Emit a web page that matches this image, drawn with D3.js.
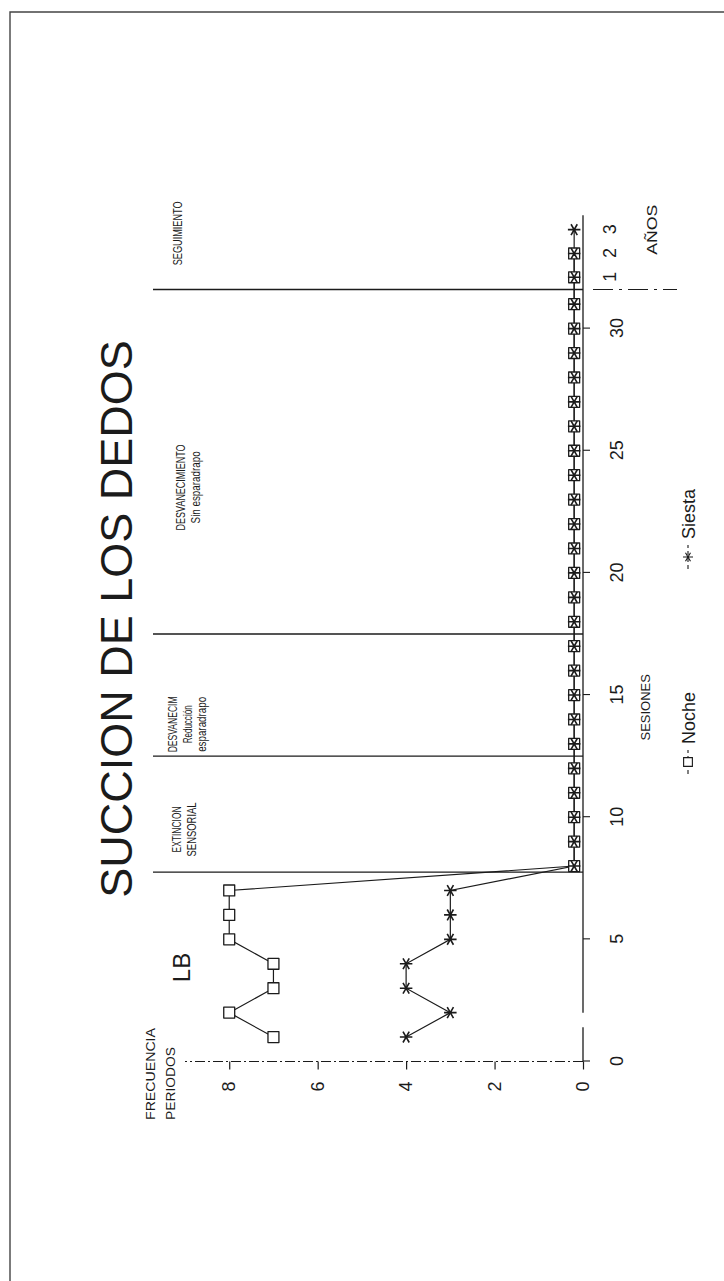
<!DOCTYPE html>
<html>
<head>
<meta charset="utf-8">
<script src="https://cdn.jsdelivr.net/npm/d3@7"></script>
<style>
  body { margin: 0; background: #fff; }
  svg { display: block; font-family: "Liberation Sans", Arial, Helvetica, sans-serif; }
</style>
</head>
<body>
<svg width="724" height="1281"></svg>
<script>
// data
const sessions = [1, 2, 3, 4, 5, 6, 7, 8, 9, 10, 11, 12, 13, 14, 15, 16,
  17, 18, 19, 20, 21, 22, 23, 24, 25, 26, 27, 28, 29, 30, 31];
const noche = [7, 8, 7, 7, 8, 8, 8, 0.2, 0.2, 0.2, 0.2, 0.2, 0.2, 0.2, 0.2, 0.2,
  0.2, 0.2, 0.2, 0.2, 0.2, 0.2, 0.2, 0.2, 0.2, 0.2, 0.2, 0.2, 0.2, 0.2, 0.2];
const siesta = [4, 3, 4, 4, 3, 3, 3, 0.2, 0.2, 0.2, 0.2, 0.2, 0.2, 0.2, 0.2, 0.2,
  0.2, 0.2, 0.2, 0.2, 0.2, 0.2, 0.2, 0.2, 0.2, 0.2, 0.2, 0.2, 0.2, 0.2, 0.2];
const followYears = [1, 2, 3];
const nocheFollow = [0.2, 0.2];
const siestaFollow = [0.2, 0.2, 0.2];

const sessionTicks = [0, 5, 10, 15, 20, 25, 30];
const freqTicks = [0, 2, 4, 6, 8];
const phaseBreaks = [7.75, 12.5, 17.5, 31.6];
const phaseNames = [
  ["LB"],
  ["EXTINCION", "SENSORIAL"],
  ["DESVANECIM", "Reducción", "esparadrapo"],
  ["DESVANECIMIENTO", "Sin esparadrapo"],
  ["SEGUIMIENTO"]
];
const phaseCenters = [3.85, 9.5, 13.8, 23.5, 33.9];

// layout
const W = 1281, H = 724;   // chart drawn sideways, then rotated onto the page
const ink = "#1b1b1b";
const labelLen = {
  "EXTINCION": 46, "SENSORIAL": 54, "DESVANECIM": 56, "Reducción": 38,
  "esparadrapo": 55, "DESVANECIMIENTO": 86, "Sin esparadrapo": 72, "SEGUIMIENTO": 64
};
const firstBaseline = [190, 181, 177, 185, 182];

const svg = d3.select("svg");

// page frame
svg.append("path")
  .attr("d", "M10,1281 V12 H724")
  .attr("fill", "none")
  .attr("stroke", "#444")
  .attr("stroke-width", 1.4);

const g = svg.append("g")
  .attr("transform", `translate(0,${W}) rotate(-90)`);

const x = d3.scaleLinear().domain([0, 30]).range([219.5, 952.4]);
const xF = d3.scaleLinear().domain([1, 3]).range([x(32.1), x(34.05)]);
const y = d3.scaleLinear().domain([0, 9]).range([583, 185]);

// title
g.append("text")
  .attr("x", 662).attr("y", 132)
  .attr("text-anchor", "middle")
  .attr("font-size", 45)
  .attr("fill", ink)
  .text("SUCCION DE LOS DEDOS");

// y axis
g.append("line")
  .attr("x1", x(0)).attr("x2", x(0))
  .attr("y1", y(0)).attr("y2", y(9))
  .attr("stroke", ink).attr("stroke-width", 1.2)
  .attr("stroke-dasharray", "10,3,2,3");

const yAxis = g.append("g")
  .attr("transform", `translate(${x(0)},0)`)
  .call(d3.axisLeft(y).tickValues(freqTicks).tickSize(8).tickPadding(12));
yAxis.select(".domain").remove();
yAxis.selectAll("line").attr("stroke", ink).attr("stroke-width", 1.2);
yAxis.selectAll("text")
  .attr("font-size", 18)
  .attr("font-family", "Liberation Sans, Arial, sans-serif")
  .attr("fill", ink);

g.append("text")
  .attr("x", 161).attr("y", 155)
  .attr("font-size", 13).attr("fill", ink)
  .attr("textLength", 92).attr("lengthAdjust", "spacingAndGlyphs")
  .text("FRECUENCIA");
g.append("text")
  .attr("x", 161).attr("y", 175)
  .attr("font-size", 13).attr("fill", ink)
  .attr("textLength", 73).attr("lengthAdjust", "spacingAndGlyphs")
  .text("PERIODOS");

// x axis line, with the small break near the origin
const axisSegments = [[x(0), x(1.4)], [x(2), xF(3.6)]];
g.selectAll(".xseg")
  .data(axisSegments)
  .join("line")
  .attr("class", "xseg")
  .attr("x1", d => d[0]).attr("x2", d => d[1])
  .attr("y1", y(0)).attr("y2", y(0))
  .attr("stroke", ink).attr("stroke-width", 1.3);

const xAxis = g.append("g")
  .attr("transform", `translate(0,${y(0)})`)
  .call(d3.axisBottom(x).tickValues(sessionTicks).tickSize(7).tickPadding(20));
xAxis.select(".domain").remove();
xAxis.selectAll("line").attr("stroke", ink).attr("stroke-width", 1.1);
xAxis.selectAll("text")
  .attr("font-size", 18)
  .attr("font-family", "Liberation Sans, Arial, sans-serif")
  .attr("fill", ink);

const fAxis = g.append("g")
  .attr("transform", `translate(0,${y(0)})`)
  .call(d3.axisBottom(xF).tickValues(followYears).tickFormat(d3.format("d"))
    .tickSize(0).tickPadding(20));
fAxis.select(".domain").remove();
fAxis.selectAll("text")
  .attr("font-size", 18)
  .attr("font-family", "Liberation Sans, Arial, sans-serif")
  .attr("fill", ink);

g.append("text")
  .attr("x", x(14.5)).attr("y", 650)
  .attr("text-anchor", "middle")
  .attr("font-size", 13).attr("fill", ink)
  .text("SESIONES");

g.append("text")
  .attr("x", xF(3)).attr("y", 657)
  .attr("text-anchor", "middle")
  .attr("font-size", 15).attr("fill", ink)
  .attr("textLength", 50).attr("lengthAdjust", "spacingAndGlyphs")
  .text("AÑOS");

// phase change lines
g.selectAll(".phase")
  .data(phaseBreaks)
  .join("line")
  .attr("class", "phase")
  .attr("x1", d => x(d)).attr("x2", d => x(d))
  .attr("y1", 153).attr("y2", y(0))
  .attr("stroke", ink).attr("stroke-width", 1.3);

// the last line continues past the axis
g.append("line")
  .attr("x1", x(phaseBreaks[3])).attr("x2", x(phaseBreaks[3]))
  .attr("y1", y(0) + 10).attr("y2", 677)
  .attr("stroke", ink).attr("stroke-width", 1.2)
  .attr("stroke-dasharray", "20,6,3,6");

// phase labels
phaseNames.forEach((lines, i) => {
  lines.forEach((t, j) => {
    const txt = g.append("text")
      .attr("x", x(phaseCenters[i]))
      .attr("y", firstBaseline[i] + j * 14.5)
      .attr("text-anchor", "middle")
      .attr("fill", ink)
      .attr("font-size", i === 0 ? 24 : 13)
      .text(t);
    if (labelLen[t]) {
      txt.attr("textLength", labelLen[t]).attr("lengthAdjust", "spacingAndGlyphs");
    }
  });
});

// series
const nochePts = sessions.map((s, i) => [x(s), y(noche[i])])
  .concat(nocheFollow.map((v, i) => [xF(followYears[i]), y(v)]));
const siestaPts = sessions.map((s, i) => [x(s), y(siesta[i])])
  .concat(siestaFollow.map((v, i) => [xF(followYears[i]), y(v)]));

const line = d3.line();
const square = d3.symbol(d3.symbolSquare, 120);
const star = d3.symbol(d3.symbolAsterisk, 110);

g.append("path")
  .attr("d", line(nochePts))
  .attr("fill", "none").attr("stroke", ink).attr("stroke-width", 1.2);
g.append("path")
  .attr("d", line(siestaPts))
  .attr("fill", "none").attr("stroke", ink).attr("stroke-width", 1.2);

g.selectAll(".sq")
  .data(nochePts)
  .join("path")
  .attr("class", "sq")
  .attr("transform", d => `translate(${d[0]},${d[1]})`)
  .attr("d", square)
  .attr("fill", "#fff").attr("stroke", ink).attr("stroke-width", 1.3)
  .attr("stroke-linejoin", "round");

g.selectAll(".st")
  .data(siestaPts)
  .join("path")
  .attr("class", "st")
  .attr("transform", d => `translate(${d[0]},${d[1]})`)
  .attr("d", star)
  .attr("fill", "none").attr("stroke", ink).attr("stroke-width", 1.6);

// legend
const legendItems = [
  { name: "Noche", symbol: square, fill: "#fff", at: 519 },
  { name: "Siesta", symbol: star, fill: "none", at: 724 }
];
const lg = g.append("g").attr("transform", "translate(0,688)");
legendItems.forEach(d => {
  lg.append("line")
    .attr("x1", d.at - 12).attr("x2", d.at + 12)
    .attr("stroke", ink).attr("stroke-width", 1.1)
    .attr("stroke-dasharray", "4,3");
  lg.append("path")
    .attr("transform", `translate(${d.at},0) scale(0.8)`)
    .attr("d", d.symbol)
    .attr("fill", d.fill).attr("stroke", ink).attr("stroke-width", 1.4);
  lg.append("text")
    .attr("x", d.at + 18).attr("y", 7)
    .attr("font-size", 18).attr("fill", ink)
    .text(d.name);
});
</script>
</body>
</html>
